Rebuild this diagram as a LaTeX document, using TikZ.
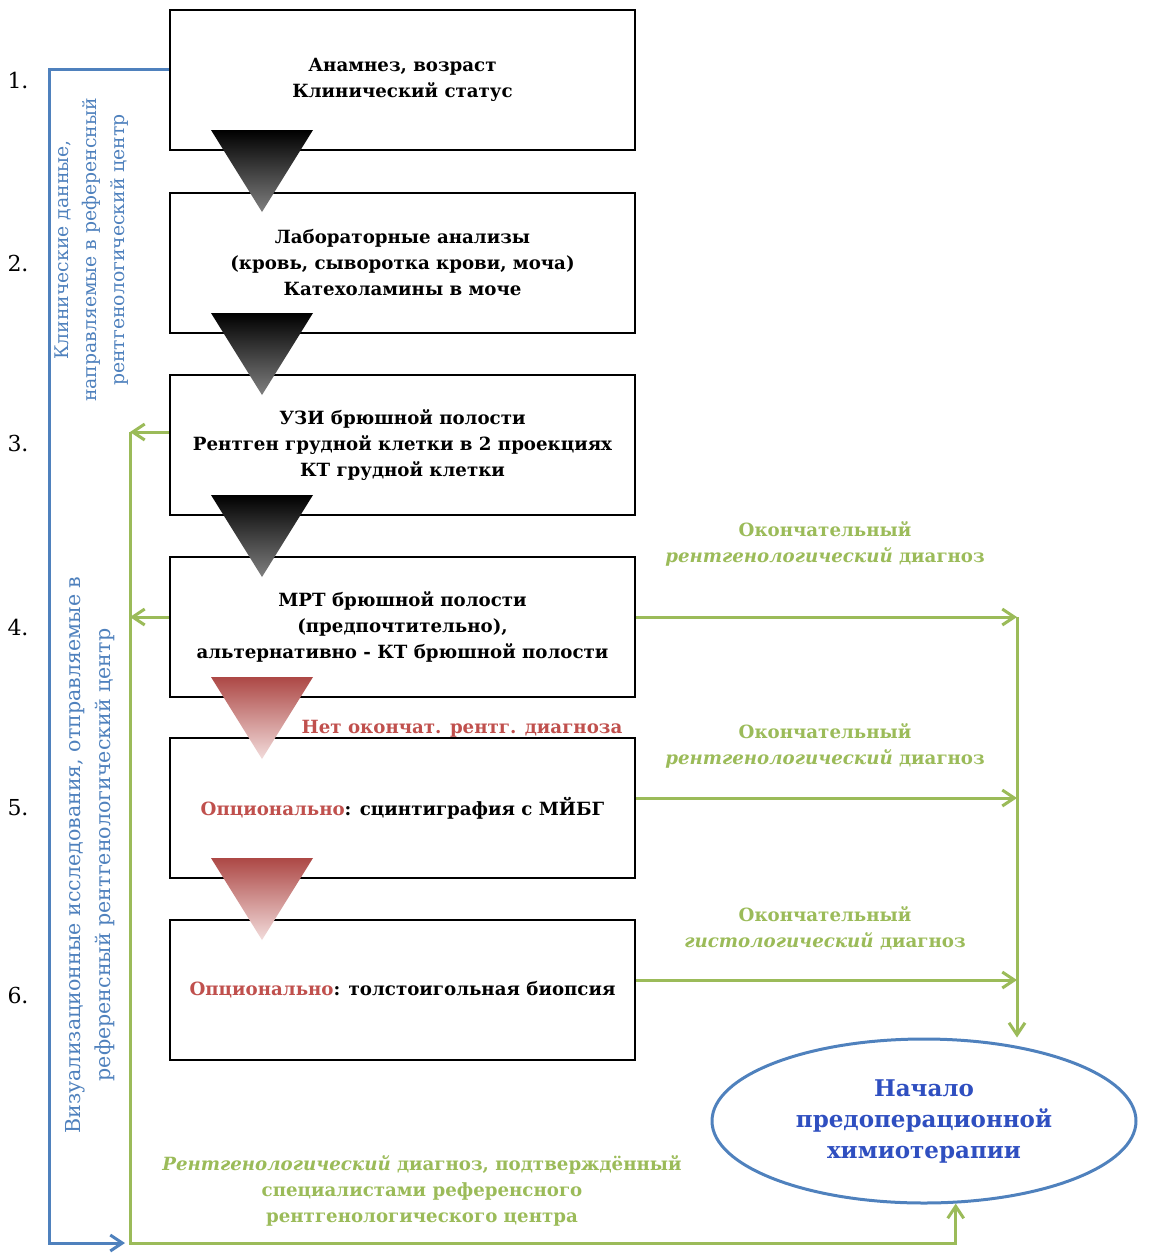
\documentclass[tikz,border=0pt]{standalone}
\usepackage{fontspec}
\setmainfont{DejaVu Serif}
\usetikzlibrary{positioning,shapes.geometric,arrows.meta}

\definecolor{ogreen}{HTML}{9BBB59}
\definecolor{oblue}{HTML}{4F81BD}
\definecolor{ored}{HTML}{C0504D}
\definecolor{chemoblue}{HTML}{2F4FC0}

\newcommand{\boxfont}{\fontsize{9.1}{13}\selectfont\bfseries}
\newcommand{\sidefont}{\fontsize{9.4}{14}\selectfont}

\tikzset{
	stepbox/.style={draw, line width=1pt, fill=white, minimum width=232.5pt, minimum height=70pt, align=center, font=\boxfont},
	numlbl/.style={font=\fontsize{11}{13}\selectfont},
	glbl/.style={text=ogreen, align=center, font=\boxfont},
	vlbl/.style={text=oblue, align=center, rotate=90, font=\sidefont},
	gline/.style={draw=ogreen, line width=1.5pt},
	garr/.style={gline, -{Straight Barb[length=6pt, width=8pt]}},
	barr/.style={draw=oblue, line width=1.5pt, -{Straight Barb[length=6pt, width=8pt]}},
	blackdown/.style={top color=black, bottom color=black!50},
	reddown/.style={top color=ored!90!black, bottom color=ored!20}
}

\begin{document}
\begin{tikzpicture}[x=0.5pt, y=-0.5pt]
	\useasboundingbox (0,0) rectangle (1148,1259);

	% steps
	\node[stepbox] (anam) at (402.5,80) {Анамнез, возраст\\Клинический статус};
	\node[stepbox] (lab) at (402.5,263) {Лабораторные анализы\\(кровь, сыворотка крови, моча)\\Катехоламины в моче};
	\node[stepbox] (uzi) at (402.5,445) {УЗИ брюшной полости\\Рентген грудной клетки в 2 проекциях\\КТ грудной клетки};
	\node[stepbox] (mrt) at (402.5,627) {МРТ брюшной полости\\(предпочтительно),\\альтернативно - КТ брюшной полости};
	\node[stepbox] (scint) at (402.5,808) {\textcolor{ored}{Опционально}: сцинтиграфия с МЙБГ};
	\node[stepbox] (biop) at (402.5,990) {\textcolor{ored}{Опционально}: толстоигольная биопсия};

	\node[numlbl] (n1) at (18,80) {1.};
	\node[numlbl] (n2) at (18,263) {2.};
	\node[numlbl] (n3) at (18,443) {3.};
	\node[numlbl] (n4) at (18,627) {4.};
	\node[numlbl] (n5) at (18,808) {5.};
	\node[numlbl] (n6) at (18,995) {6.};

	% down triangles
	\foreach \ty in {130,313,495}
		\shade[blackdown] (211,\ty) -- (313,\ty) -- (262,\ty+82) -- cycle;
	\foreach \ty in {677,858}
		\shade[reddown] (211,\ty) -- (313,\ty) -- (262,\ty+82) -- cycle;

	\node[font=\boxfont, text=ored] (nodx) at (462,729) {Нет окончат. рентг. диагноза};

	\node[ellipse, draw=oblue, line width=1.5pt, minimum width=212pt, minimum height=82pt, inner sep=0pt, align=center, text=chemoblue, font=\fontsize{11.5}{15.5}\selectfont\bfseries] (chemo) at (924,1121) {Начало\\предоперационной\\химиотерапии};

	% side labels
	\node[vlbl] (clin) at (92,250) {Клинические данные,\\направляемые в референсный\\рентгенологический центр};
	\node[vlbl, font=\fontsize{10.3}{15}\selectfont] (vis) at (90,855) {Визуализационные исследования, отправляемые в\\референсный рентгенологический центр};

	\node[glbl] (fin4) at (825,544) {Окончательный\\\textit{рентгенологический} диагноз};
	\node[glbl] (fin5) at (825,746) {Окончательный\\\textit{рентгенологический} диагноз};
	\node[glbl] (fin6) at (825,928) {Окончательный\\\textit{гистологический} диагноз};
	\node[glbl] (conf) at (422,1191) {\textit{Рентгенологический} диагноз, подтверждённый\\специалистами референсного\\рентгенологического центра};

	% blue connector
	\coordinate (bcorner) at (49,1243);
	\coordinate (btip) at (125,1243);
	\draw[barr] ([yshift=5.5pt]anam.west) -| (bcorner) -- (btip);

	% green connectors
	\coordinate (gtop) at (130,432);
	\coordinate (g4) at (130,617);
	\coordinate (gbot) at (130,1243);
	\draw[garr] ([yshift=6.5pt]uzi.west) -- (gtop);
	\draw[garr] ([yshift=5pt]mrt.west) -- (g4);
	\draw[garr] (gtop) -- (gbot) -| (chemo.-69);

	\coordinate (r4) at (1017,617);
	\coordinate (r5) at (1017,798);
	\coordinate (r6) at (1017,980);
	\draw[garr] ([yshift=5pt]mrt.east) -- (r4);
	\draw[garr] ([yshift=5pt]scint.east) -- (r5);
	\draw[garr] ([yshift=5pt]biop.east) -- (r6);
	\draw[garr] (r4) -- (r4 |- chemo.north);
\end{tikzpicture}
\end{document}
